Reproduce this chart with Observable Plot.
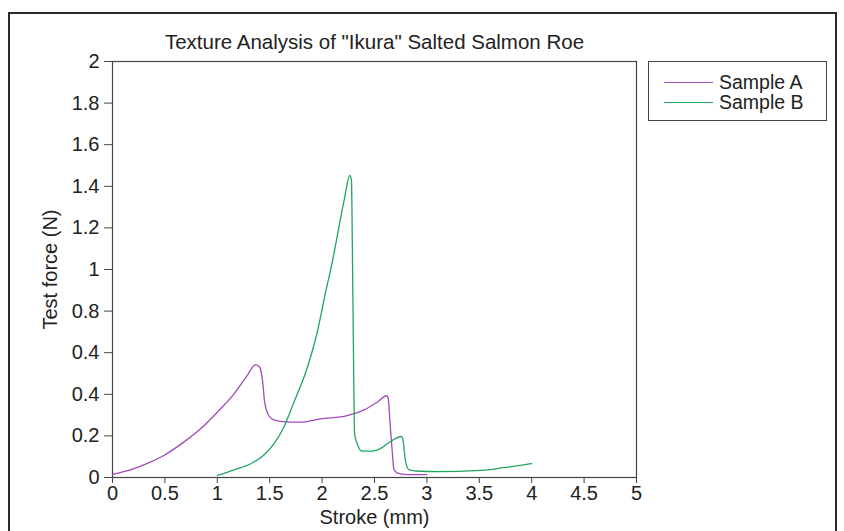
<!DOCTYPE html>
<html>
<head>
<meta charset="utf-8">
<script src="https://cdn.jsdelivr.net/npm/d3@7"></script>
<script src="https://cdn.jsdelivr.net/npm/@observablehq/plot@0.6"></script>
<style>
  html, body { margin: 0; padding: 0; background: #fff; }
  body { width: 844px; height: 531px; position: relative; overflow: hidden; font-family: "Liberation Sans", Arial, Helvetica, sans-serif; }
  #outer { position: absolute; left: 8px; top: 12px; width: 829px; height: 600px; border: 2px solid #2a2a2a; box-sizing: border-box; }
  #chart { position: absolute; left: 0; top: 0; }
  #legend { position: absolute; left: 648px; top: 61px; width: 179px; height: 60px; border: 1px solid #444; box-sizing: border-box; background: #fff; }
  .row { position: absolute; left: 0; height: 20px; font-size: 19.5px; color: #222; }
  .row .ln { position: absolute; left: 15px; width: 49px; top: 0; border-top: 1.2px solid; }
  .row .tx { position: absolute; left: 70px; top: -11px; white-space: nowrap; line-height: 22px; }
</style>
</head>
<body>
<div id="outer"></div>
<div id="chart"></div>
<div id="legend">
  <div class="row" style="top:19.5px"><span class="ln" style="border-color:#a24ab6"></span><span class="tx">Sample A</span></div>
  <div class="row" style="top:39.5px"><span class="ln" style="border-color:#1fa65e"></span><span class="tx">Sample B</span></div>
</div>
<script>
const titleText = 'Texture Analysis of "Ikura" Salted Salmon Roe';
const xLabel = "Stroke (mm)";
const yLabel = "Test force (N)";

const xTicks = [0, 0.5, 1, 1.5, 2, 2.5, 3, 3.5, 4, 4.5, 5];
const yTicks = [0, 0.2, 0.4, 0.6, 0.8, 1, 1.2, 1.4, 1.6, 1.8, 2];
const yTickLabels = ["0", "0.2", "0.4", "0.4", "0.8", "1", "1.2", "1.4", "1.6", "1.8", "2"];

const seriesNames = ["Sample A", "Sample B"];
const seriesColors = ["#a24ab6", "#1fa65e"];

const aStroke = [0, 0.2, 0.36, 0.49, 0.68, 0.84, 1.0, 1.16, 1.285, 1.365, 1.405, 1.435, 1.45, 1.49, 1.54, 1.62, 1.79, 1.985, 2.24, 2.40, 2.525, 2.615, 2.63, 2.65, 2.67, 2.685, 2.72, 2.81, 3.0];
const aForce  = [0.015, 0.042, 0.074, 0.106, 0.170, 0.234, 0.314, 0.402, 0.490, 0.543, 0.530, 0.450, 0.370, 0.298, 0.277, 0.269, 0.266, 0.282, 0.298, 0.325, 0.362, 0.393, 0.383, 0.25, 0.12, 0.04, 0.021, 0.014, 0.014];

const bStroke = [1.0, 1.16, 1.32, 1.44, 1.54, 1.635, 1.73, 1.86, 1.95, 2.03, 2.10, 2.16, 2.21, 2.265, 2.28, 2.29, 2.30, 2.31, 2.335, 2.38, 2.48, 2.56, 2.65, 2.755, 2.77, 2.795, 2.83, 2.94, 3.10, 3.51, 3.73, 3.89, 4.0];
const bForce  = [0.01, 0.037, 0.066, 0.106, 0.162, 0.242, 0.36, 0.53, 0.691, 0.883, 1.043, 1.203, 1.332, 1.452, 1.428, 1.043, 0.563, 0.210, 0.162, 0.127, 0.127, 0.140, 0.172, 0.197, 0.186, 0.082, 0.037, 0.030, 0.028, 0.034, 0.047, 0.058, 0.067];

const dataA = aStroke.map((x, i) => ({x, y: aForce[i], s: seriesNames[0]}));
const dataB = bStroke.map((x, i) => ({x, y: bForce[i], s: seriesNames[1]}));

const FONT = '"Liberation Sans", Arial, Helvetica, sans-serif';

const chart = Plot.plot({
  width: 844,
  height: 531,
  marginLeft: 112,
  marginRight: 208,
  marginTop: 61,
  marginBottom: 54,
  style: {fontFamily: FONT, fontSize: "20px", color: "#222", background: "transparent"},
  x: {domain: [0, 5], label: null},
  y: {domain: [0, 2], label: null},
  marks: [
    Plot.frame({stroke: "#444", strokeWidth: 1.2}),
    Plot.axisX({ticks: xTicks, tickSize: 6, tickPadding: 2, tickFormat: d => String(d), stroke: "#444", fill: "#222", fontSize: 20, label: null}),
    Plot.axisY({ticks: yTicks, tickSize: 8, tickPadding: 5, tickFormat: d => yTickLabels[yTicks.indexOf(d)], stroke: "#444", fill: "#222", fontSize: 20, label: null}),
    Plot.line(dataA, {x: "x", y: "y", stroke: seriesColors[0], strokeWidth: 1.3, curve: "monotone-x"}),
    Plot.line(dataB, {x: "x", y: "y", stroke: seriesColors[1], strokeWidth: 1.3, curve: "monotone-x"}),
    Plot.text([titleText], {frameAnchor: "top", lineAnchor: "middle", textAnchor: "middle", dy: -19, fill: "#222", fontSize: 20.5}),
    Plot.text([xLabel], {frameAnchor: "bottom", lineAnchor: "middle", textAnchor: "middle", dy: 40.5, fill: "#222", fontSize: 20}),
    Plot.text([yLabel], {frameAnchor: "left", lineAnchor: "middle", textAnchor: "middle", dx: -62, rotate: -90, fill: "#222", fontSize: 20})
  ]
});
document.getElementById("chart").appendChild(chart);
</script>
</body>
</html>
